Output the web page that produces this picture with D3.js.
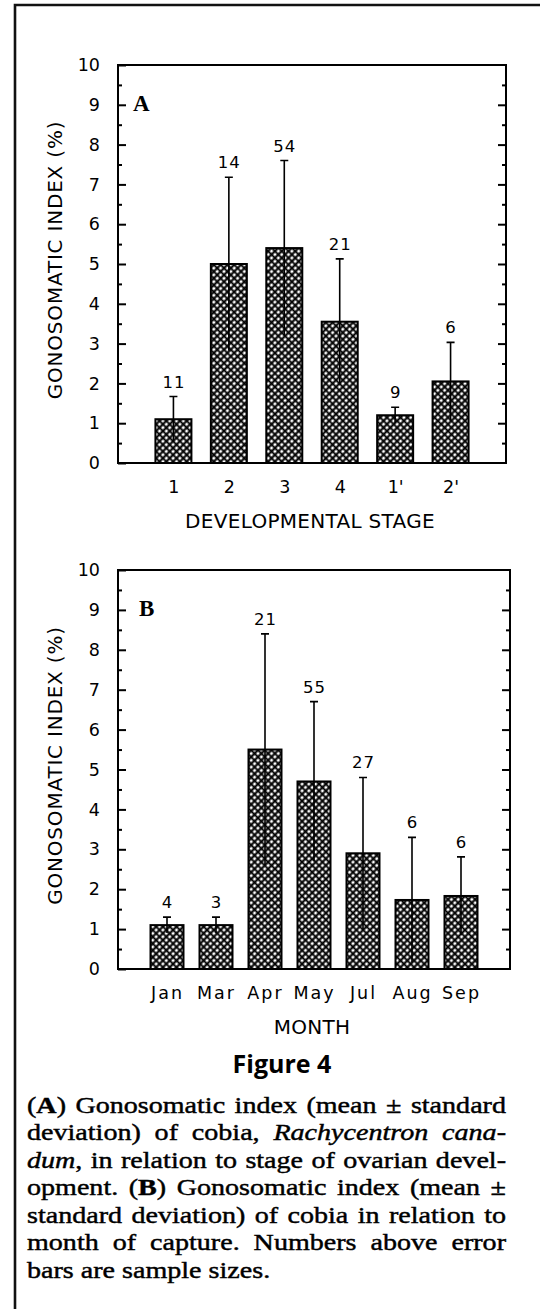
<!DOCTYPE html>
<html>
<head>
<meta charset="utf-8">
<script src="https://cdn.jsdelivr.net/npm/d3@7"></script>
<style>
  body { margin: 0; background: #fff; }
  svg { display: block; }
</style>
</head>
<body>
<script>
// panel A: ovarian developmental stage
const stagesA = ["1", "2", "3", "4", "1'", "2'"];
const meanA = [1.1, 5.0, 5.4, 3.55, 1.2, 2.05];
const sdA = [0.57, 2.18, 2.2, 1.58, 0.2, 0.98];
const nA = [11, 14, 54, 21, 9, 6];

// panel B: month of capture
const monthsB = ["Jan", "Mar", "Apr", "May", "Jul", "Aug", "Sep"];
const meanB = [1.1, 1.1, 5.5, 4.7, 2.9, 1.73, 1.83];
const sdB = [0.2, 0.2, 2.9, 2.0, 1.9, 1.57, 0.98];
const nB = [4, 3, 21, 55, 27, 6, 6];

const yMajor = d3.range(0, 11);
const yMinor = d3.range(0.5, 10, 1);

const captionLines = [
  [["(", ""], ["A", "b"], [") Gonosomatic index (mean ± standard", ""]],
  [["deviation) of cobia, ", ""], ["Rachycentron cana-", "i"]],
  [["dum", "i"], [", in relation to stage of ovarian devel-", ""]],
  [["opment. (", ""], ["B", "b"], [") Gonosomatic index (mean ±", ""]],
  [["standard deviation) of cobia in relation to", ""]],
  [["month of capture. Numbers above error", ""]],
  [["bars are sample sizes.", ""]]
];

const svg = d3.select("body").append("svg")
    .attr("width", 540)
    .attr("height", 1309);

svg.append("rect").attr("width", 540).attr("height", 1309).attr("fill", "#fff");

const defs = svg.append("defs");
const tile = 4.8;
const pat = defs.append("pattern")
    .attr("id", "hatch")
    .attr("patternUnits", "userSpaceOnUse")
    .attr("width", tile).attr("height", tile)
    .attr("patternTransform", "rotate(45)");
pat.append("rect").attr("width", tile).attr("height", tile).attr("fill", "#fff");
pat.append("path")
    .attr("d", `M0,${tile / 2}H${tile}M${tile / 2},0V${tile}`)
    .attr("stroke", "#000").attr("stroke-width", 2.1);

// outer page frame
svg.append("path")
    .attr("d", "M15,1309V5H540")
    .attr("fill", "none").attr("stroke", "#111").attr("stroke-width", 2.6);

const sans = "'DejaVu Sans', sans-serif";

function drawPanel(p) {
  const x = d3.scalePoint().domain(p.cats).range([p.left, p.right]).padding(1);
  const y = d3.scaleLinear().domain([0, 10]).range([p.bottom, p.top]);
  const g = svg.append("g");

  const data = p.cats.map((c, i) => ({ c, m: p.mean[i], s: p.sd[i], n: p.n[i] }));

  // bars
  g.selectAll(".bar").data(data).enter().append("rect")
      .attr("x", d => x(d.c) - p.barW / 2)
      .attr("y", d => y(d.m))
      .attr("width", p.barW)
      .attr("height", d => y(0) - y(d.m))
      .attr("fill", "url(#hatch)")
      .attr("stroke", "#000")
      .attr("stroke-width", 2);

  // error bars (upper cap only)
  g.selectAll(".err").data(data).enter().append("path")
      .attr("d", d => {
        const cx = x(d.c), t = y(d.m + d.s), b = y(Math.max(0, d.m - d.s));
        return `M${cx},${b}V${t}M${cx - 4},${t}H${cx + 4}`;
      })
      .attr("fill", "none").attr("stroke", "#000").attr("stroke-width", 1.6);

  // sample sizes
  g.selectAll(".n").data(data).enter().append("text")
      .attr("x", d => x(d.c) + 0.5)
      .attr("y", d => y(d.m + d.s) - 9)
      .attr("text-anchor", "middle")
      .attr("font-family", sans).attr("font-size", 16.5)
      .attr("letter-spacing", 1)
      .text(d => d.n);

  // y axis left with labels
  const yl = g.append("g").attr("transform", `translate(${p.left},0)`)
      .call(d3.axisLeft(y).tickValues(yMajor).tickSize(-8).tickPadding(18).tickFormat(d3.format("d")));
  yl.select(".domain").remove();
  yl.selectAll("line").attr("stroke-width", 2);
  yl.selectAll("text").attr("font-family", sans).attr("font-size", 17.5).attr("fill", "#000");

  const ylm = g.append("g").attr("transform", `translate(${p.left},0)`)
      .call(d3.axisLeft(y).tickValues(yMinor).tickSize(-4).tickFormat(""));
  ylm.select(".domain").remove();
  ylm.selectAll("line").attr("stroke-width", 2);

  // y axis right, ticks only
  const yr = g.append("g").attr("transform", `translate(${p.right},0)`)
      .call(d3.axisRight(y).tickValues(yMajor.slice(1, 10)).tickSize(-8).tickFormat(""));
  yr.select(".domain").remove();
  yr.selectAll("line").attr("stroke-width", 2);
  const yrm = g.append("g").attr("transform", `translate(${p.right},0)`)
      .call(d3.axisRight(y).tickValues(yMinor).tickSize(-4).tickFormat(""));
  yrm.select(".domain").remove();
  yrm.selectAll("line").attr("stroke-width", 2);

  // x axis labels
  const xa = g.append("g").attr("transform", `translate(0,${p.bottom})`)
      .call(d3.axisBottom(x).tickSize(0).tickPadding(18));
  xa.select(".domain").remove();
  xa.selectAll("text").attr("font-family", sans).attr("font-size", 17.5)
      .attr("letter-spacing", p.xSpacing).attr("fill", "#000");

  // plot frame
  g.append("rect")
      .attr("x", p.left).attr("y", p.top)
      .attr("width", p.right - p.left).attr("height", p.bottom - p.top)
      .attr("fill", "none").attr("stroke", "#000").attr("stroke-width", 2);

  // panel letter
  g.append("text")
      .attr("x", p.left + p.labelDx).attr("y", y(8.85))
      .attr("font-family", "'Liberation Serif', serif").attr("font-weight", "bold")
      .attr("font-size", 23)
      .text(p.label);

  // axis titles
  g.append("text")
      .attr("transform", `translate(62,${(p.top + p.bottom) / 2 - 4}) rotate(-90)`)
      .attr("text-anchor", "middle")
      .attr("font-family", sans).attr("font-size", 20).attr("letter-spacing", 0.8)
      .text("GONOSOMATIC INDEX (%)");

  g.append("text")
      .attr("x", (p.left + p.right) / 2 - 2).attr("y", p.bottom + 65)
      .attr("text-anchor", "middle")
      .attr("font-family", sans).attr("font-size", 20).attr("letter-spacing", 0.3)
      .text(p.xTitle);
}

drawPanel({
  cats: stagesA, mean: meanA, sd: sdA, n: nA,
  left: 118, right: 506, top: 65, bottom: 463,
  barW: 36, label: "A", labelDx: 15, xTitle: "DEVELOPMENTAL STAGE", xSpacing: 0
});

drawPanel({
  cats: monthsB, mean: meanB, sd: sdB, n: nB,
  left: 118, right: 510, top: 570, bottom: 969,
  barW: 33, label: "B", labelDx: 21, xTitle: "MONTH", xSpacing: 2
});

// figure title
svg.append("text")
    .attr("x", 282).attr("y", 1073)
    .attr("text-anchor", "middle")
    .attr("font-family", "'Open Sans', sans-serif").attr("font-weight", "bold")
    .attr("font-size", 25)
    .text("Figure 4");

// caption, justified; Times glyphs widened to match the schoolbook face
const capLeft = 27, capRight = 506, capTop = 1113, capStep = 27.5, capSx = 1.17;
const capG = svg.append("g").attr("transform", `translate(${capLeft},0) scale(${capSx},1)`);
captionLines.forEach((segs, i) => {
  const t = capG.append("text")
      .attr("x", 0).attr("y", capTop + i * capStep)
      .attr("font-family", "'Liberation Serif', serif")
      .attr("font-size", 24)
      .attr("fill", "#000")
      .attr("stroke", "#000").attr("stroke-width", 0.45);
  segs.forEach(([s, st]) => {
    t.append("tspan")
        .attr("font-weight", st === "b" ? "bold" : null)
        .attr("font-style", st === "i" ? "italic" : null)
        .text(s);
  });
  if (i < captionLines.length - 1) {
    const w = t.node().getComputedTextLength();
    const spaces = segs.map(s => s[0]).join("").split(" ").length - 1;
    if (spaces > 0) t.attr("word-spacing", ((capRight - capLeft) / capSx - w) / spaces);
  }
});
</script>
</body>
</html>
